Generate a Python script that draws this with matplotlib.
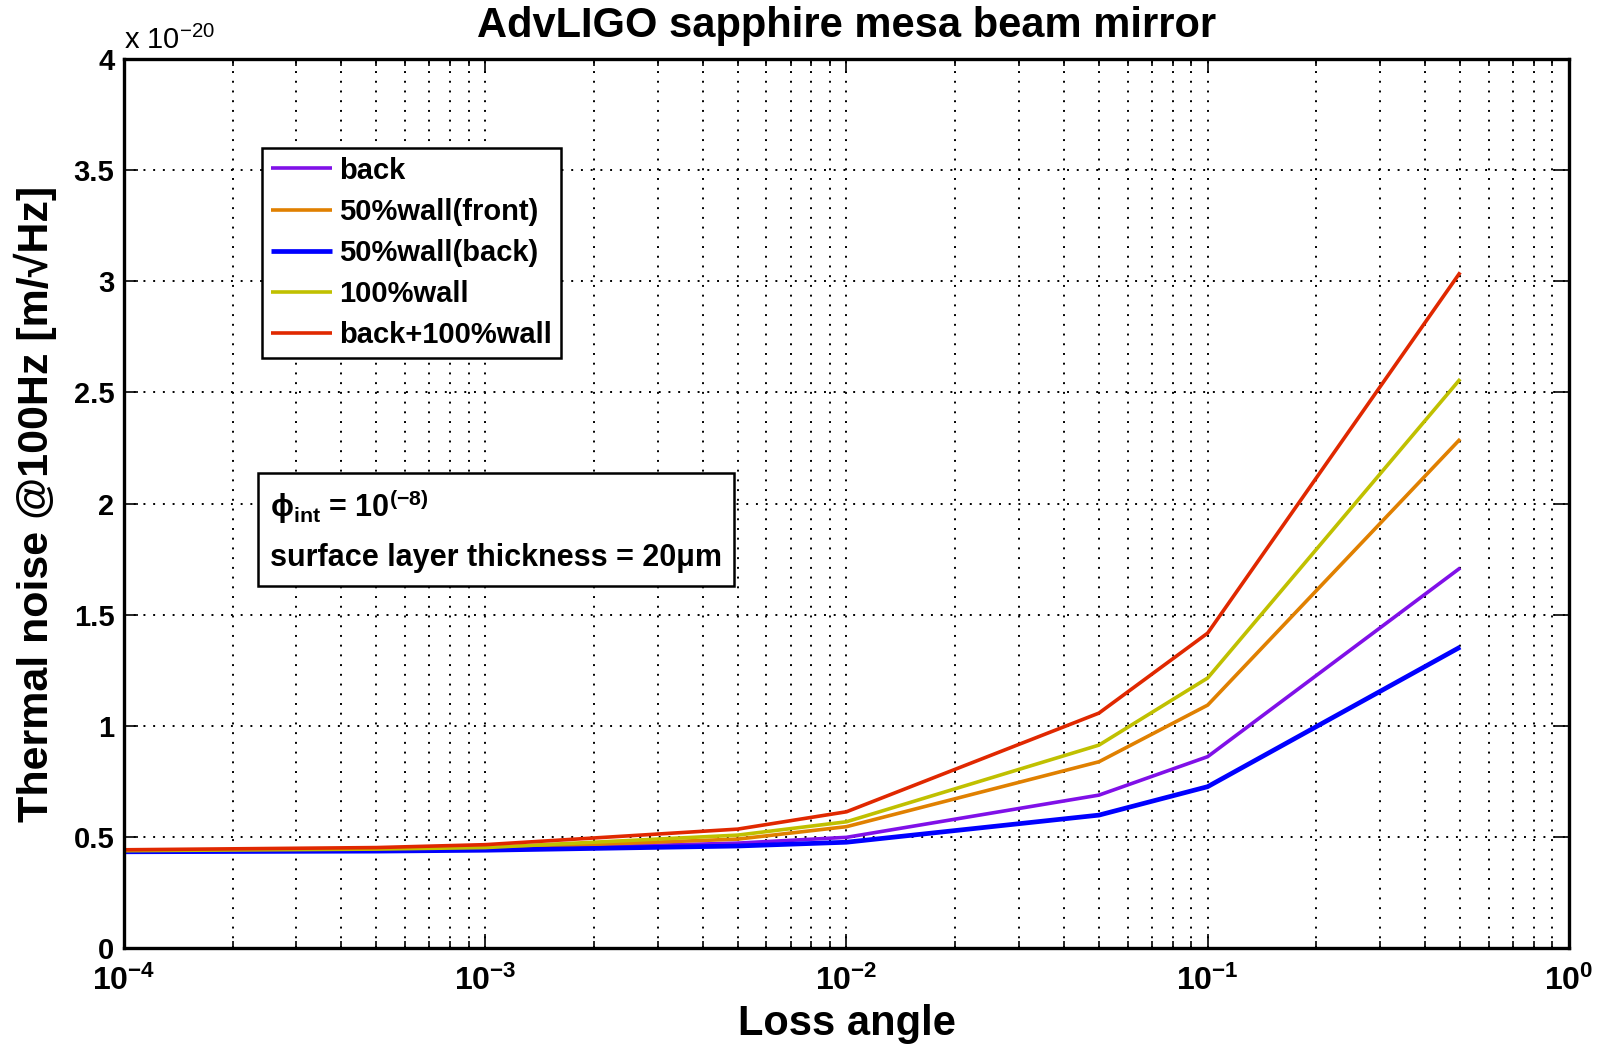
import matplotlib
matplotlib.use("Agg")
import matplotlib.pyplot as plt
from matplotlib.ticker import FixedLocator, LogLocator, NullFormatter

plt.rcParams["font.family"] = ["Liberation Sans", "DejaVu Sans"]
plt.rcParams["font.weight"] = "bold"
plt.rcParams["axes.labelweight"] = "bold"
plt.rcParams["mathtext.fontset"] = "custom"
plt.rcParams["mathtext.rm"] = "Liberation Sans:bold"
plt.rcParams["mathtext.it"] = "Liberation Sans:bold"
plt.rcParams["mathtext.bf"] = "Liberation Sans:bold"
plt.rcParams["mathtext.default"] = "regular"

# Loss angle samples
loss_angle = [1e-4, 5e-4, 1e-3, 5e-3, 1e-2, 5e-2, 1e-1, 5e-1]

# Thermal noise @100Hz, in units of 1e-20 m/sqrt(Hz)
back = [0.435, 0.438, 0.442, 0.472, 0.498, 0.688, 0.861, 1.71]
wall50_front = [0.437, 0.442, 0.448, 0.490, 0.546, 0.838, 1.093, 2.29]
wall50_back = [0.433, 0.436, 0.440, 0.459, 0.476, 0.598, 0.726, 1.354]
wall100 = [0.438, 0.445, 0.452, 0.508, 0.568, 0.913, 1.215, 2.56]
back_wall100 = [0.442, 0.452, 0.465, 0.535, 0.613, 1.057, 1.417, 3.04]

series_labels = ["back", "50%wall(front)", "50%wall(back)", "100%wall", "back+100%wall"]
series_colors = ["#8010E8", "#E08000", "#0000FF", "#C0C000", "#E02800"]
series_widths = [2.6, 2.6, 3.4, 2.6, 2.6]

y_ticks = [0, 0.5, 1, 1.5, 2, 2.5, 3, 3.5, 4]
y_ticklabels = ["0", "0.5", "1", "1.5", "2", "2.5", "3", "3.5", "4"]
x_ticks = [1e-4, 1e-3, 1e-2, 1e-1, 1e0]
x_ticklabels = [r"$10^{-4}$", r"$10^{-3}$", r"$10^{-2}$", r"$10^{-1}$", r"$10^{0}$"]

fig = plt.figure(figsize=(15.98, 10.48), dpi=100)
ax = fig.add_axes([0.0776, 0.0954, 0.9042, 0.8483])

all_series = [back, wall50_front, wall50_back, wall100, back_wall100]
for vals, lab, col, lw in zip(all_series, series_labels, series_colors, series_widths):
    ax.plot(loss_angle, vals, color=col, lw=lw, label=lab, solid_capstyle="butt")

ax.set_xscale("log")
ax.set_xlim(1e-4, 1)
ax.set_ylim(0, 4)
ax.xaxis.set_major_locator(FixedLocator(x_ticks))
ax.set_xticklabels(x_ticklabels)
ax.xaxis.set_minor_locator(LogLocator(base=10, subs=range(2, 10), numticks=20))
ax.xaxis.set_minor_formatter(NullFormatter())
ax.set_yticks(y_ticks)
ax.set_yticklabels(y_ticklabels)

ax.tick_params(which="both", direction="in", top=True, right=True, width=1.2)
ax.tick_params(axis="y", labelsize=21)
ax.tick_params(axis="x", labelsize=23)
ax.tick_params(which="major", length=10, pad=7)
ax.tick_params(axis="x", which="major", pad=13)
ax.tick_params(which="minor", length=5)
for sp in ax.spines.values():
    sp.set_linewidth(2.4)

grid_kw = dict(color="black", linestyle=(0, (1, 4)), linewidth=1.4)
ax.grid(True, which="major", axis="both", **grid_kw)
ax.grid(True, which="minor", axis="x", **grid_kw)
ax.set_axisbelow(True)

ax.set_title("AdvLIGO sapphire mesa beam mirror", fontsize=30, pad=16, fontweight="bold")
ax.set_xlabel("Loss angle", fontsize=30, labelpad=5)
ax.set_ylabel("Thermal noise @100Hz [m/√Hz]", fontsize=31, labelpad=12)
ax.text(0.0, 1.005, r"x $10^{-20}$", transform=ax.transAxes, fontsize=21,
        ha="left", va="bottom", fontweight="normal")

leg = ax.legend(loc="upper left", bbox_to_anchor=(0.0955, 0.900), borderaxespad=0,
                prop=dict(size=21, weight="bold"), handlelength=2.1, handletextpad=0.25,
                labelspacing=0.45, borderpad=0.3, fancybox=False, framealpha=1,
                edgecolor="black")
leg.get_frame().set_linewidth(1.8)

ax.text(0.101, 0.4700, "$\\phi_{int}$ = 10$^{(-8)}$\nsurface layer thickness = 20μm",
        transform=ax.transAxes, fontsize=22, ha="left", va="center", linespacing=1.75,
        bbox=dict(boxstyle="square,pad=0.4", facecolor="white", edgecolor="black",
                  linewidth=1.8))

fig.savefig("out.png", dpi=100)
